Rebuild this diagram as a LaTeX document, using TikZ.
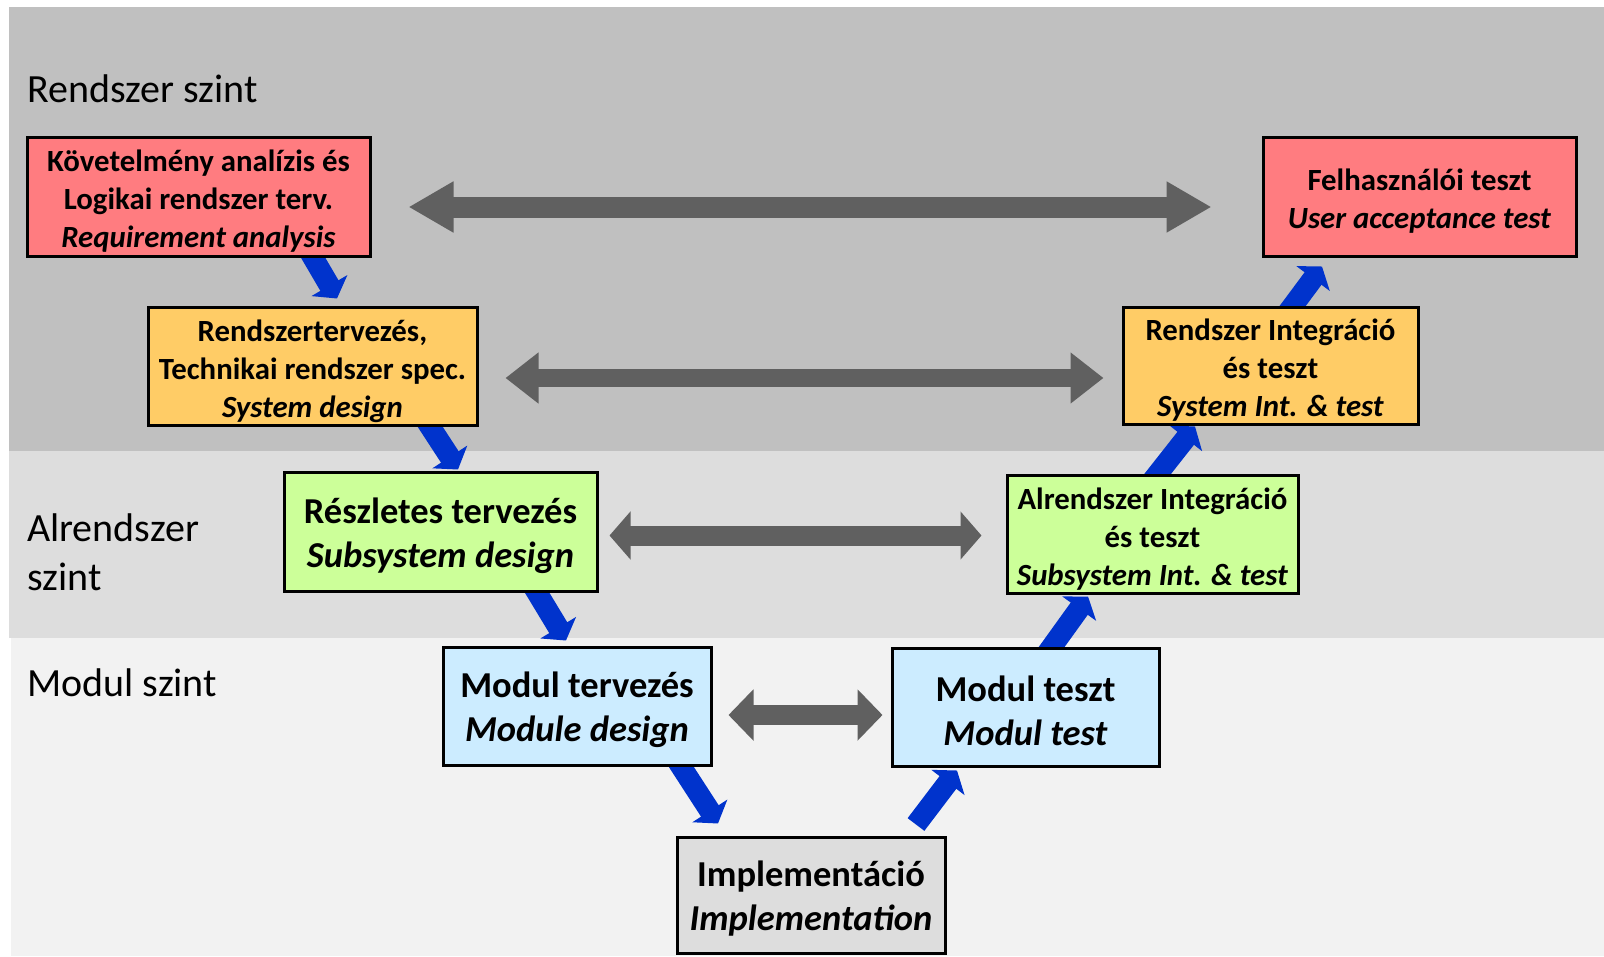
\documentclass[tikz,border=0pt]{standalone}
\usepackage{fontspec}
\setmainfont{Carlito}
\usetikzlibrary{arrows.meta,calc}
\definecolor{bandA}{HTML}{C0C0C0}
\definecolor{bandB}{HTML}{DDDDDD}
\definecolor{bandC}{HTML}{F2F2F2}
\definecolor{reqred}{HTML}{FF7C80}
\definecolor{sysorange}{HTML}{FFCC66}
\definecolor{subgreen}{HTML}{CCFF99}
\definecolor{modblue}{HTML}{CCECFF}
\definecolor{implgray}{HTML}{DDDDDD}
\definecolor{arrowgray}{HTML}{606060}
\definecolor{arrowblue}{HTML}{0033CC}
\pgfdeclarelayer{bg}
\pgfdeclarelayer{mid}
\pgfsetlayers{bg,mid,main}
\begin{document}
\begin{tikzpicture}[x=1pt,y=-1pt,
  box/.style={draw=black, line width=3pt, inner sep=0pt},
  smalltext/.style={label={[inner sep=0pt, align=center, yshift=-5pt,
    font=\fontsize{30.8}{38}\selectfont\bfseries]center:{#1}}},
  bigtext/.style={label={[inner sep=0pt, align=center, yshift=-4pt,
    font=\fontsize{36.5}{44}\selectfont\bfseries]center:{#1}}},
  level/.style={inner sep=0pt, anchor=base west, align=left,
    font=\fontsize{40}{49}\selectfont},
  dbl/.style={draw=arrowgray, line width=#1},
  bluearrow/.style={draw=arrowblue, line width=21pt, -{Triangle[length=15pt,width=41pt]}},
]
\useasboundingbox (0,0) rectangle (1604,956);
\begin{pgfonlayer}{bg}
  \fill[bandA] (9,7) rectangle (1604,451);
  \fill[bandB] (9,451) rectangle (1604,638);
  \fill[bandC] (11,638) rectangle (1604,956);
\end{pgfonlayer}

\node[level] (l1) at (27,102) {Rendszer szint};
\node[level] (l2) at (27,590) {Alrendszer\\szint};
\node[level] (l3) at (27,696) {Modul szint};

\node[box, fill=reqred, minimum width=343pt, minimum height=119pt,
  smalltext={Követelmény analízis és\\Logikai rendszer terv.\\\textit{Requirement analysis}}]
  (req) at (198.5,196.5) {};
\node[box, fill=sysorange, minimum width=329pt, minimum height=118pt,
  smalltext={Rendszertervezés,\\Technikai rendszer spec.\\\textit{System design}}]
  (sysd) at (312.5,366) {};
\node[box, fill=subgreen, minimum width=313pt, minimum height=119pt,
  bigtext={Részletes tervezés\\\textit{Subsystem design}}]
  (subd) at (440.5,531.5) {};
\node[box, fill=modblue, minimum width=268pt, minimum height=118pt,
  bigtext={Modul tervezés\\\textit{Module design}}]
  (modd) at (577,706) {};
\node[box, fill=implgray, minimum width=268pt, minimum height=116pt,
  bigtext={Implementáció\\\textit{Implementation}}]
  (impl) at (811,895) {};
\node[box, fill=modblue, minimum width=267pt, minimum height=118pt,
  bigtext={Modul teszt\\\textit{Modul test}}]
  (modt) at (1025.5,707) {};
\node[box, fill=subgreen, minimum width=291pt, minimum height=118pt,
  smalltext={Alrendszer Integráció\\és teszt\\\textit{Subsystem Int. \& test}}]
  (subi) at (1152.5,534) {};
\node[box, fill=sysorange, minimum width=295pt, minimum height=117pt,
  smalltext={Rendszer Integráció\\és teszt\\\textit{System Int. \& test}}]
  (sysi) at (1270.5,365.5) {};
\node[box, fill=reqred, minimum width=313pt, minimum height=119pt,
  smalltext={Felhasználói teszt\\\textit{User acceptance test}}]
  (user) at (1419.5,196.5) {};

% gray double arrows
\draw[dbl=21pt, {Triangle[length=45pt,width=48pt]}-{Triangle[length=45pt,width=48pt]},
  shorten <=37pt, shorten >=50pt] ($(req.east)+(0,10.5)$) -- ($(user.west)+(0,10.5)$);
\draw[dbl=18pt, {Triangle[length=33pt,width=49pt]}-{Triangle[length=33pt,width=49pt]},
  shorten <=27pt, shorten >=18pt] ($(sysd.east)+(0,12)$) -- ($(sysi.west)+(0,12.5)$);
\draw[dbl=20pt, {Triangle[length=21pt,width=47pt]}-{Triangle[length=21pt,width=47pt]},
  shorten <=11pt, shorten >=24pt] ($(subd.east)+(0,4)$) -- ($(subi.west)+(0,1.5)$);
\draw[dbl=20pt, {Triangle[length=25pt,width=50pt]}-{Triangle[length=25pt,width=50pt]},
  shorten <=16pt, shorten >=8pt] ($(modd.east)+(0,9)$) -- ($(modt.west)+(0,8)$);

% blue flow arrows
\begin{pgfonlayer}{mid}
  \draw[bluearrow, shorten <=-12pt] ($(req.south)+(114.5,0)$) -- ($(sysd.north)+(24.5,-7)$);
  \draw[bluearrow, shorten <=-12pt] ($(sysd.south)+(117.5,0)$) -- ($(subd.north)+(17.5,-1)$);
  \draw[bluearrow, shorten <=-12pt] ($(subd.south)+(96.5,0)$) -- ($(modd.north)+(-11,-5)$);
  \draw[bluearrow, shorten <=-12pt] ($(modd.south)+(106,3)$) -- ($(impl.north)+(-93,-12)$);
  \draw[bluearrow] ($(impl.north)+(105,-11)$) -- ($(modt.south)+(-68.5,3)$);
  \draw[bluearrow, shorten <=-12pt] ($(modt.north)+(26.5,0)$) -- ($(subi.south)+(-64.5,2)$);
  \draw[bluearrow, shorten <=-12pt] ($(subi.north)+(5.5,0)$) -- ($(sysi.south)+(-75.5,1)$);
  \draw[bluearrow, shorten <=-12pt] ($(sysi.north)+(22.5,0)$) -- ($(user.south)+(-97.5,9)$);
\end{pgfonlayer}
\end{tikzpicture}
\end{document}
